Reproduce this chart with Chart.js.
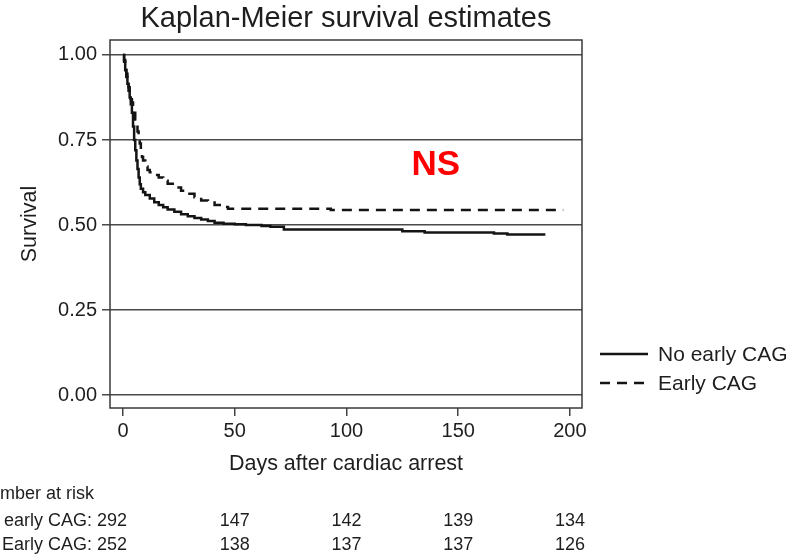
<!DOCTYPE html>
<html>
<head>
<meta charset="utf-8">
<script src="https://cdn.jsdelivr.net/npm/chart.js@4.4.1/dist/chart.umd.min.js"></script>
<style>
  html, body { margin: 0; padding: 0; background: #fff; }
</style>
</head>
<body>
<canvas id="km" width="796" height="554"></canvas>
<script>
// step points: day -> survival
const noEarlyDays = [0, 0.5, 1, 1.5, 2, 2.5, 3, 3.5, 4, 4.5, 5, 5.5, 6, 6.5, 7, 7.5, 8, 9, 10, 12, 14, 16, 18, 20, 23, 26, 29, 32, 35, 38, 41, 45, 50, 55, 62, 66, 72, 125, 135, 166, 172, 189];
const noEarlySurv = [1.0, 0.98, 0.955, 0.935, 0.915, 0.895, 0.875, 0.855, 0.83, 0.79, 0.75, 0.72, 0.69, 0.665, 0.64, 0.62, 0.607, 0.596, 0.588, 0.578, 0.567, 0.559, 0.552, 0.546, 0.539, 0.532, 0.526, 0.521, 0.516, 0.512, 0.507, 0.504, 0.502, 0.5, 0.497, 0.495, 0.487, 0.482, 0.478, 0.475, 0.472, 0.472];
const earlyDays = [0, 0.5, 1, 1.5, 2, 2.5, 3, 3.5, 4, 4.5, 5, 5.5, 6, 6.5, 7, 7.5, 8, 8.5, 9, 10, 11, 12, 14, 16, 18, 20, 23, 26, 29, 32, 35, 38, 41, 44, 47, 93, 197];
const earlySurv = [1.0, 0.985, 0.965, 0.945, 0.925, 0.905, 0.885, 0.87, 0.86, 0.845, 0.83, 0.81, 0.795, 0.775, 0.76, 0.74, 0.715, 0.7, 0.69, 0.672, 0.662, 0.655, 0.647, 0.64, 0.63, 0.621, 0.61, 0.601, 0.592, 0.582, 0.572, 0.566, 0.559, 0.553, 0.548, 0.544, 0.544];

const xTicks = [0, 50, 100, 150, 200];
const yTicks = [0, 0.25, 0.5, 0.75, 1];

// number at risk table
const riskTimes = [0, 50, 100, 150, 200];
const riskNoEarly = [292, 147, 142, 139, 134];
const riskEarly = [252, 138, 137, 137, 126];

const FONT = '"Liberation Sans", Arial, Helvetica, sans-serif';
const INK = '#1e1e1e';

function pts(days, surv) {
    return days.map((d, i) => ({ x: d, y: surv[i] }));
}

const extras = {
    id: 'extras',
    afterDraw(chart) {
        const { ctx, chartArea: a } = chart;
        const xs = chart.scales.x, ys = chart.scales.y;
        ctx.save();

        // box round the plot
        ctx.strokeStyle = '#3a3a3a';
        ctx.lineWidth = 1.5;
        ctx.strokeRect(a.left, a.top, a.right - a.left, a.bottom - a.top);

        // title
        ctx.fillStyle = INK;
        ctx.font = '29px ' + FONT;
        ctx.textAlign = 'center';
        ctx.textBaseline = 'middle';
        ctx.fillText('Kaplan-Meier survival estimates', (a.left + a.right) / 2, 19);

        // NS
        ctx.fillStyle = '#ff0000';
        ctx.font = 'bold 35px ' + FONT;
        ctx.fillText('NS', xs.getPixelForValue(140), ys.getPixelForValue(0.675));

        // legend
        ctx.font = '21px ' + FONT;
        ctx.textAlign = 'left';
        chart.data.datasets.forEach((ds, i) => {
            const y = 354 + i * 29;
            ctx.strokeStyle = ds.borderColor;
            ctx.lineWidth = ds.borderWidth;
            ctx.setLineDash(ds.borderDash || []);
            ctx.beginPath();
            ctx.moveTo(600, y);
            ctx.lineTo(648, y);
            ctx.stroke();
            ctx.setLineDash([]);
            ctx.fillStyle = INK;
            ctx.fillText(ds.label, 658, y + 1);
        });

        // number at risk
        ctx.font = '18px ' + FONT;
        ctx.fillStyle = INK;
        ctx.textAlign = 'left';
        ctx.fillText('Number at risk', -23, 494);
        const rows = [[chart.data.datasets[0].label, riskNoEarly], [chart.data.datasets[1].label, riskEarly]];
        rows.forEach(([lab, counts], r) => {
            const y = 521 + r * 24;
            ctx.textAlign = 'right';
            ctx.fillText(lab + ': ' + counts[0], 127, y);
            ctx.textAlign = 'center';
            for (let i = 1; i < counts.length; i++) {
                ctx.fillText(String(counts[i]), xs.getPixelForValue(riskTimes[i]), y);
            }
        });
        ctx.restore();
    }
};

new Chart(document.getElementById('km'), {
    type: 'line',
    data: {
        datasets: [
            {
                label: 'No early CAG',
                data: pts(noEarlyDays, noEarlySurv),
                borderColor: '#141414',
                borderWidth: 2.5,
                stepped: 'before',
                pointRadius: 0,
                fill: false
            },
            {
                label: 'Early CAG',
                data: pts(earlyDays, earlySurv),
                borderColor: '#141414',
                borderWidth: 2.5,
                borderDash: [10, 7],
                stepped: 'before',
                pointRadius: 0,
                fill: false
            }
        ]
    },
    options: {
        responsive: false,
        animation: false,
        layout: { padding: { left: 0, top: 40, right: 214, bottom: 0 } },
        plugins: {
            legend: { display: false },
            title: { display: false },
            tooltip: { enabled: false }
        },
        scales: {
            x: {
                type: 'linear',
                min: -5.8,
                max: 205.4,
                afterBuildTicks: s => { s.ticks = xTicks.map(v => ({ value: v })); },
                afterFit: s => { s.height = 146; },
                grid: { drawOnChartArea: false, drawTicks: true, tickLength: 8, color: '#444', lineWidth: 1.5 },
                border: { display: false },
                ticks: { font: { size: 20, family: FONT }, color: INK, padding: 3, maxRotation: 0 },
                title: {
                    display: true,
                    text: 'Days after cardiac arrest',
                    font: { size: 21.5, family: FONT },
                    color: INK,
                    padding: { top: 0, bottom: 77 }
                }
            },
            y: {
                min: -0.038,
                max: 1.044,
                afterBuildTicks: s => { s.ticks = yTicks.map(v => ({ value: v })); },
                afterFit: s => { s.width = 110; },
                grid: { color: '#4a4a4a', lineWidth: 1.5, tickLength: 8 },
                border: { display: false },
                ticks: {
                    font: { size: 20, family: FONT },
                    color: INK,
                    padding: 5,
                    callback: v => v.toFixed(2)
                },
                title: {
                    display: true,
                    text: 'Survival',
                    font: { size: 21.5, family: FONT },
                    color: INK,
                    padding: { top: 17, bottom: 0 }
                }
            }
        }
    },
    plugins: [extras]
});
</script>
</body>
</html>
